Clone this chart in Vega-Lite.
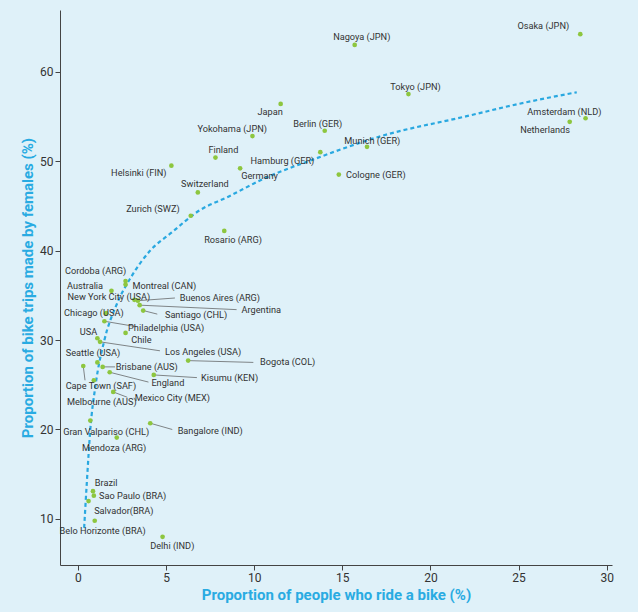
{
  "$schema": "https://vega.github.io/schema/vega-lite/v6.json",
  "background": "#dff1f9",
  "autosize": "none",
  "width": 552,
  "height": 555,
  "padding": {"left": 60, "top": 10, "right": 26, "bottom": 47},
  "datasets": {
    "cities": [
      {"name": "Osaka (JPN)", "x": 28.5, "y": 64.2, "lx": 26.4, "ly": 65.1},
      {"name": "Nagoya (JPN)", "x": 15.7, "y": 63.0, "lx": 16.1, "ly": 63.9},
      {"name": "Tokyo (JPN)", "x": 18.75, "y": 57.5, "lx": 19.15, "ly": 58.3},
      {"name": "Amsterdam (NLD)", "x": 28.8, "y": 54.8, "lx": 27.6, "ly": 55.5},
      {"name": "Netherlands", "x": 27.9, "y": 54.4, "lx": 26.5, "ly": 53.5},
      {"name": "Japan", "x": 11.5, "y": 56.4, "lx": 10.9, "ly": 55.5},
      {"name": "Berlin (GER)", "x": 14.0, "y": 53.4, "lx": 13.6, "ly": 54.1},
      {"name": "Munich (GER)", "x": 16.4, "y": 51.6, "lx": 16.7, "ly": 52.2},
      {"name": "Hamburg (GER)", "x": 13.75, "y": 51.0, "lx": 11.6, "ly": 50.0},
      {"name": "Cologne (GER)", "x": 14.8, "y": 48.5, "lx": 16.9, "ly": 48.5},
      {"name": "Yokohama (JPN)", "x": 9.9, "y": 52.8, "lx": 8.75, "ly": 53.6},
      {"name": "Finland", "x": 7.8, "y": 50.4, "lx": 8.25, "ly": 51.2},
      {"name": "Germany", "x": 9.2, "y": 49.2, "lx": 10.3, "ly": 48.3},
      {"name": "Helsinki (FIN)", "x": 5.3, "y": 49.5, "lx": 3.45, "ly": 48.7},
      {"name": "Switzerland", "x": 6.8, "y": 46.5, "lx": 7.2, "ly": 47.5},
      {"name": "Zurich (SWZ)", "x": 6.4, "y": 43.9, "lx": 4.25, "ly": 44.6},
      {"name": "Rosario (ARG)", "x": 8.3, "y": 42.2, "lx": 8.8, "ly": 41.2},
      {"name": "Cordoba (ARG)", "x": 2.7, "y": 36.6, "lx": 1.0, "ly": 37.7},
      {"name": "Montreal (CAN)", "x": 2.7, "y": 36.2, "lx": 4.9, "ly": 36.0},
      {"name": "Australia", "x": 1.9, "y": 35.5, "lx": 0.4, "ly": 36.0},
      {"name": "New York City (USA)", "x": 3.2, "y": 34.5, "lx": 1.75, "ly": 34.8},
      {"name": "Buenos Aires (ARG)", "x": 3.4, "y": 34.4, "lx": 8.05, "ly": 34.7, "ex": 5.5, "ey": 34.7},
      {"name": "Argentina", "x": 3.5, "y": 33.9, "lx": 10.4, "ly": 33.4, "ex": 9.0, "ey": 33.4},
      {"name": "Santiago (CHL)", "x": 3.7, "y": 33.3, "lx": 6.7, "ly": 32.8, "ex": 4.5, "ey": 32.9},
      {"name": "Chicago (USA)", "x": 1.6, "y": 33.0, "lx": 0.9, "ly": 33.0},
      {"name": "Philadelphia (USA)", "x": 1.5, "y": 32.1, "lx": 5.0, "ly": 31.4, "ex": 3.3, "ey": 31.5},
      {"name": "USA", "x": 1.1, "y": 30.2, "lx": 0.6, "ly": 30.9},
      {"name": "Chile", "x": 2.7, "y": 30.8, "lx": 3.6, "ly": 30.0},
      {"name": "Los Angeles (USA)", "x": 1.25, "y": 29.8, "lx": 7.1, "ly": 28.7, "ex": 4.65, "ey": 28.8},
      {"name": "Bogota (COL)", "x": 6.25, "y": 27.7, "lx": 11.9, "ly": 27.5, "ex": 9.95, "ey": 27.5},
      {"name": "Seattle (USA)", "x": 1.1, "y": 27.5, "lx": 0.85, "ly": 28.5},
      {"name": "Brisbane (AUS)", "x": 1.4, "y": 27.0, "lx": 3.9, "ly": 27.0, "ex": 2.1, "ey": 27.0},
      {"name": "England", "x": 1.8, "y": 26.4, "lx": 5.1, "ly": 25.2, "ex": 4.0, "ey": 25.3},
      {"name": "Kisumu (KEN)", "x": 4.3, "y": 26.1, "lx": 8.6, "ly": 25.8, "ex": 6.75, "ey": 25.8},
      {"name": "Cape Town (SAF)", "x": 0.3, "y": 27.1, "lx": 1.3, "ly": 24.9, "ex": 0.4, "ey": 25.5},
      {"name": "Melbourne (AUS)", "x": 0.9, "y": 25.5, "lx": 1.35, "ly": 23.1},
      {"name": "Mexico City (MEX)", "x": 2.0, "y": 24.2, "lx": 5.35, "ly": 23.5, "ex": 2.8, "ey": 23.6},
      {"name": "Bangalore (IND)", "x": 4.1, "y": 20.7, "lx": 7.5, "ly": 19.8, "ex": 5.35, "ey": 20.0},
      {"name": "Gran Valpariso (CHL)", "x": 0.7, "y": 21.0, "lx": 1.6, "ly": 19.7},
      {"name": "Mendoza (ARG)", "x": 2.2, "y": 19.1, "lx": 2.05, "ly": 17.9},
      {"name": "Brazil", "x": 0.85, "y": 13.1, "lx": 1.6, "ly": 14.0},
      {"name": "Sao Paulo (BRA)", "x": 0.9, "y": 12.6, "lx": 3.1, "ly": 12.6},
      {"name": "Salvador(BRA)", "x": 0.6, "y": 12.0, "lx": 2.6, "ly": 10.9},
      {"name": "Belo Horizonte (BRA)", "x": 0.95, "y": 9.8, "lx": 1.4, "ly": 8.7},
      {"name": "Delhi (IND)", "x": 4.8, "y": 8.0, "lx": 5.35, "ly": 7.0}
    ],
    "trend": [
      {"x": 0.35, "y": 9}, {"x": 0.5, "y": 14}, {"x": 0.7, "y": 20}, {"x": 1.0, "y": 25},
      {"x": 1.5, "y": 30}, {"x": 2.2, "y": 34}, {"x": 3.0, "y": 37}, {"x": 4.1, "y": 40},
      {"x": 5.3, "y": 42}, {"x": 6.9, "y": 44.5}, {"x": 8.5, "y": 46}, {"x": 10.5, "y": 48},
      {"x": 13.5, "y": 50.3}, {"x": 17.2, "y": 52.8}, {"x": 22, "y": 55}, {"x": 25, "y": 56.4}, {"x": 28.3, "y": 57.7}
    ]
  },
  "encoding": {
    "x": {"field": "x", "type": "quantitative", "scale": {"domain": [-1.02, 30.3], "nice": false},
      "axis": {"values": [0, 5, 10, 15, 20, 25, 30], "title": "Proportion of people who ride a bike (%)"}},
    "y": {"field": "y", "type": "quantitative", "scale": {"domain": [4.85, 66.9], "nice": false, "zero": false},
      "axis": {"values": [10, 20, 30, 40, 50, 60], "title": "Proportion of bike trips made by females (%)"}}
  },
  "layer": [
    {
      "data": {"name": "cities"},
      "transform": [{"filter": "isValid(datum.ex)"}],
      "mark": {"type": "rule", "color": "#555", "strokeWidth": 0.7},
      "encoding": {"x2": {"field": "ex"}, "y2": {"field": "ey"}}
    },
    {
      "data": {"name": "trend"},
      "mark": {"type": "line", "color": "#29a8e0", "strokeWidth": 2.2, "strokeDash": [4, 3], "interpolate": "monotone"},
      "encoding": {}
    },
    {
      "data": {"name": "cities"},
      "mark": {"type": "circle", "color": "#8dc63f", "size": 22, "opacity": 1},
      "encoding": {}
    },
    {
      "data": {"name": "cities"},
      "mark": {"type": "text", "font": "Roboto", "fontSize": 9.2, "color": "#333"},
      "encoding": {
        "x": {"field": "lx", "type": "quantitative"},
        "y": {"field": "ly", "type": "quantitative"},
        "text": {"field": "name"}
      }
    }
  ],
  "config": {
    "view": {"stroke": null},
    "axis": {
      "grid": false, "domainColor": "#444", "tickColor": "#444", "tickSize": 5,
      "labelFont": "Roboto", "labelFontSize": 12, "labelColor": "#333",
      "titleFont": "Roboto", "titleFontSize": 15, "titleFontWeight": "bold", "titleColor": "#29abe2"
    }
  }
}
